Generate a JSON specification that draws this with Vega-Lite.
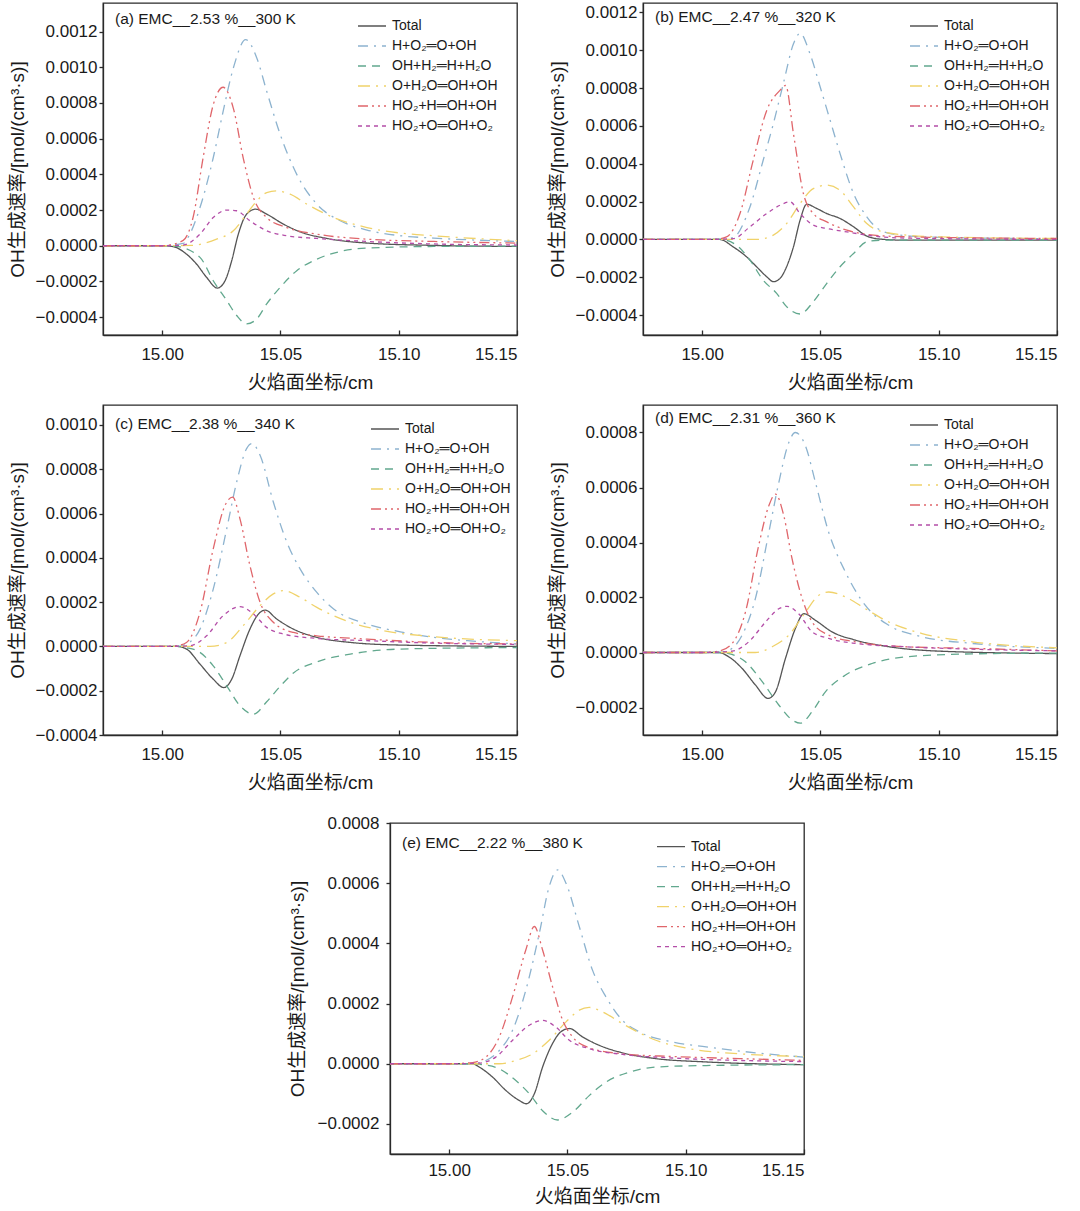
{
"$schema":"https://vega.github.io/schema/vega-lite/v6.json",
"background":"white",
"padding":{"left":7,"top":2,"right":2,"bottom":2},
"spacing":20,
"resolve":{"scale":{"x":"independent","y":"independent","color":"independent","strokeDash":"independent"},"legend":{"color":"independent","strokeDash":"independent"}},
"config":{
"font":"Liberation Sans",
"view":{"stroke":"#2a2a2a","strokeWidth":1.3},
"axis":{"grid":false,"labelFont":"Liberation Sans","labelFontSize":17,"labelColor":"#1a1a1a","titleFont":"Liberation Sans, Noto Sans CJK SC","titleFontSize":19,"titleFontWeight":"normal","titleColor":"#1a1a1a","domainColor":"#2a2a2a","tickColor":"#2a2a2a","domainWidth":1.3,"tickWidth":1.3},
"axisX":{"tickSize":-5,"labelPadding":16,"titlePadding":11},
"axisY":{"tickSize":4,"labelPadding":2,"titlePadding":8},
"legend":{"orient":"none","labelFont":"Liberation Sans","labelFontSize":14,"labelColor":"#1a1a1a","symbolType":"stroke","symbolSize":784,"symbolStrokeWidth":1.5,"clipHeight":20,"rowPadding":0,"labelOffset":5,"padding":0},
"title":{"anchor":"start","frame":"group","dx":12,"fontSize":15.5,"fontWeight":"normal","font":"Liberation Sans","baseline":"middle","color":"#1a1a1a"},
"line":{"strokeWidth":1.3,"interpolate":"monotone","clip":true}
},
"datasets":{
"a":[
{"s":"T","x":14.975,"y":0},{"s":"T","x":15,"y":0},{"s":"T","x":15.0047,"y":-0.000005},{"s":"T","x":15.0103,"y":-0.000047},{"s":"T","x":15.0145,"y":-0.000102},{"s":"T","x":15.0188,"y":-0.000177},{"s":"T","x":15.0233,"y":-0.000237},{"s":"T","x":15.0266,"y":-0.000196},{"s":"T","x":15.0294,"y":-0.000084},{"s":"T","x":15.0322,"y":0.000065},{"s":"T","x":15.0357,"y":0.000177},{"s":"T","x":15.0395,"y":0.000205},{"s":"T","x":15.0442,"y":0.000177},{"s":"T","x":15.0513,"y":0.000121},{"s":"T","x":15.0583,"y":0.000078},{"s":"T","x":15.0696,"y":0.000041},{"s":"T","x":15.0866,"y":0.000015},{"s":"T","x":15.1148,"y":0.000002},{"s":"T","x":15.15,"y":-0.000004},
{"s":"A","x":14.975,"y":0},{"s":"A","x":15,"y":0},{"s":"A","x":15.0089,"y":0.000013},{"s":"A","x":15.0117,"y":0.000065},{"s":"A","x":15.016,"y":0.000214},{"s":"A","x":15.0216,"y":0.000493},{"s":"A","x":15.0258,"y":0.000754},{"s":"A","x":15.0301,"y":0.000996},{"s":"A","x":15.0353,"y":0.001155},{"s":"A","x":15.04,"y":0.001052},{"s":"A","x":15.0442,"y":0.000866},{"s":"A","x":15.0499,"y":0.000624},{"s":"A","x":15.0569,"y":0.0004},{"s":"A","x":15.0654,"y":0.000233},{"s":"A","x":15.0753,"y":0.00014},{"s":"A","x":15.0866,"y":0.000088},{"s":"A","x":15.1007,"y":0.000056},{"s":"A","x":15.1148,"y":0.000043},{"s":"A","x":15.15,"y":0.000024},
{"s":"B","x":14.975,"y":0},{"s":"B","x":15,"y":0},{"s":"B","x":15.0061,"y":-0.000004},{"s":"B","x":15.016,"y":-0.000065},{"s":"B","x":15.0216,"y":-0.000196},{"s":"B","x":15.0273,"y":-0.000307},{"s":"B","x":15.0315,"y":-0.000391},{"s":"B","x":15.0357,"y":-0.000438},{"s":"B","x":15.04,"y":-0.00041},{"s":"B","x":15.0442,"y":-0.000326},{"s":"B","x":15.0499,"y":-0.000233},{"s":"B","x":15.0569,"y":-0.00014},{"s":"B","x":15.0654,"y":-0.000075},{"s":"B","x":15.0753,"y":-0.000032},{"s":"B","x":15.0866,"y":-0.000013},{"s":"B","x":15.1148,"y":-0.000004},{"s":"B","x":15.15,"y":-0.000002},
{"s":"C","x":14.975,"y":0},{"s":"C","x":15,"y":0},{"s":"C","x":15.0131,"y":0.000002},{"s":"C","x":15.016,"y":0.000008},{"s":"C","x":15.023,"y":0.000037},{"s":"C","x":15.0301,"y":0.000084},{"s":"C","x":15.0357,"y":0.000177},{"s":"C","x":15.04,"y":0.000251},{"s":"C","x":15.0442,"y":0.000298},{"s":"C","x":15.0484,"y":0.000307},{"s":"C","x":15.0541,"y":0.000289},{"s":"C","x":15.0612,"y":0.000233},{"s":"C","x":15.0725,"y":0.000158},{"s":"C","x":15.0866,"y":0.000102},{"s":"C","x":15.1007,"y":0.000071},{"s":"C","x":15.1148,"y":0.000056},{"s":"C","x":15.15,"y":0.000028},
{"s":"D","x":14.975,"y":0},{"s":"D","x":15,"y":0},{"s":"D","x":15.0018,"y":0.000002},{"s":"D","x":15.0089,"y":0.00003},{"s":"D","x":15.0131,"y":0.00016},{"s":"D","x":15.0174,"y":0.0005},{"s":"D","x":15.0216,"y":0.00079},{"s":"D","x":15.0258,"y":0.000888},{"s":"D","x":15.0301,"y":0.00077},{"s":"D","x":15.0343,"y":0.00049},{"s":"D","x":15.0386,"y":0.00027},{"s":"D","x":15.0442,"y":0.000158},{"s":"D","x":15.0527,"y":0.000102},{"s":"D","x":15.0654,"y":0.000065},{"s":"D","x":15.0866,"y":0.000037},{"s":"D","x":15.1148,"y":0.000024},{"s":"D","x":15.15,"y":0.000015},
{"s":"E","x":14.975,"y":0},{"s":"E","x":15,"y":0},{"s":"E","x":15.0089,"y":0.000004},{"s":"E","x":15.016,"y":0.000065},{"s":"E","x":15.0216,"y":0.000158},{"s":"E","x":15.0273,"y":0.0002},{"s":"E","x":15.0315,"y":0.000196},{"s":"E","x":15.0371,"y":0.00014},{"s":"E","x":15.0442,"y":0.000084},{"s":"E","x":15.0527,"y":0.000056},{"s":"E","x":15.0654,"y":0.000041},{"s":"E","x":15.0866,"y":0.000024},{"s":"E","x":15.1148,"y":0.00001},{"s":"E","x":15.15,"y":0.000004}
],
"b":[
{"s":"T","x":14.975,"y":0},{"s":"T","x":15,"y":0},{"s":"T","x":15.0075,"y":0},{"s":"T","x":15.0131,"y":-0.000039},{"s":"T","x":15.0188,"y":-0.000092},{"s":"T","x":15.023,"y":-0.000144},{"s":"T","x":15.0273,"y":-0.000197},{"s":"T","x":15.0301,"y":-0.000223},{"s":"T","x":15.0329,"y":-0.000206},{"s":"T","x":15.0357,"y":-0.000144},{"s":"T","x":15.0386,"y":-0.000039},{"s":"T","x":15.0414,"y":0.000102},{"s":"T","x":15.0442,"y":0.000186},{"s":"T","x":15.0484,"y":0.000164},{"s":"T","x":15.0527,"y":0.000137},{"s":"T","x":15.0583,"y":0.000111},{"s":"T","x":15.064,"y":0.000067},{"s":"T","x":15.0696,"y":0.000018},{"s":"T","x":15.0753,"y":0.000002},{"s":"T","x":15.0866,"y":-0.000004},{"s":"T","x":15.15,"y":-0.000004},
{"s":"A","x":14.975,"y":0},{"s":"A","x":15,"y":0},{"s":"A","x":15.0075,"y":0},{"s":"A","x":15.0131,"y":0.00001},{"s":"A","x":15.0202,"y":0.000172},{"s":"A","x":15.0258,"y":0.000419},{"s":"A","x":15.0301,"y":0.000612},{"s":"A","x":15.0343,"y":0.000823},{"s":"A","x":15.0386,"y":0.001034},{"s":"A","x":15.0414,"y":0.00109},{"s":"A","x":15.0456,"y":0.000981},{"s":"A","x":15.0499,"y":0.000806},{"s":"A","x":15.0541,"y":0.00063},{"s":"A","x":15.0583,"y":0.000454},{"s":"A","x":15.064,"y":0.000243},{"s":"A","x":15.0696,"y":0.00012},{"s":"A","x":15.0753,"y":0.000049},{"s":"A","x":15.0838,"y":0.000023},{"s":"A","x":15.1007,"y":0.000011},{"s":"A","x":15.15,"y":0.000004},
{"s":"B","x":14.975,"y":0},{"s":"B","x":15,"y":0},{"s":"B","x":15.0075,"y":0},{"s":"B","x":15.0145,"y":-0.00003},{"s":"B","x":15.0202,"y":-0.000109},{"s":"B","x":15.0258,"y":-0.000215},{"s":"B","x":15.0315,"y":-0.000285},{"s":"B","x":15.0357,"y":-0.000355},{"s":"B","x":15.0414,"y":-0.000394},{"s":"B","x":15.047,"y":-0.000329},{"s":"B","x":15.0527,"y":-0.000232},{"s":"B","x":15.0583,"y":-0.000144},{"s":"B","x":15.064,"y":-0.000074},{"s":"B","x":15.0696,"y":-0.000012},{"s":"B","x":15.0753,"y":-0.000004},{"s":"B","x":15.15,"y":-0.000003},
{"s":"C","x":14.975,"y":0},{"s":"C","x":15,"y":0},{"s":"C","x":15.023,"y":0},{"s":"C","x":15.0301,"y":0.000023},{"s":"C","x":15.0357,"y":0.000084},{"s":"C","x":15.0414,"y":0.00019},{"s":"C","x":15.047,"y":0.000269},{"s":"C","x":15.0527,"y":0.000287},{"s":"C","x":15.0583,"y":0.00026},{"s":"C","x":15.064,"y":0.000172},{"s":"C","x":15.0696,"y":0.000084},{"s":"C","x":15.0753,"y":0.000044},{"s":"C","x":15.0866,"y":0.000023},{"s":"C","x":15.1007,"y":0.000014},{"s":"C","x":15.15,"y":0.000005},
{"s":"D","x":14.975,"y":0},{"s":"D","x":15,"y":0},{"s":"D","x":15.0047,"y":0},{"s":"D","x":15.0103,"y":0.000014},{"s":"D","x":15.016,"y":0.000137},{"s":"D","x":15.0216,"y":0.000419},{"s":"D","x":15.0273,"y":0.000682},{"s":"D","x":15.0329,"y":0.000788},{"s":"D","x":15.0353,"y":0.000814},{"s":"D","x":15.0386,"y":0.000559},{"s":"D","x":15.0428,"y":0.000243},{"s":"D","x":15.047,"y":0.000137},{"s":"D","x":15.0527,"y":0.000093},{"s":"D","x":15.0612,"y":0.000049},{"s":"D","x":15.0725,"y":0.000023},{"s":"D","x":15.0866,"y":0.000014},{"s":"D","x":15.15,"y":0.000005},
{"s":"E","x":14.975,"y":0},{"s":"E","x":15,"y":0},{"s":"E","x":15.0131,"y":0.000004},{"s":"E","x":15.0202,"y":0.000067},{"s":"E","x":15.0273,"y":0.000137},{"s":"E","x":15.0329,"y":0.000181},{"s":"E","x":15.0371,"y":0.000199},{"s":"E","x":15.0414,"y":0.000137},{"s":"E","x":15.047,"y":0.000076},{"s":"E","x":15.0527,"y":0.000058},{"s":"E","x":15.0612,"y":0.00004},{"s":"E","x":15.0725,"y":0.000018},{"s":"E","x":15.0866,"y":0.000007},{"s":"E","x":15.15,"y":0}
],
"c":[
{"s":"T","x":14.975,"y":0},{"s":"T","x":15,"y":0},{"s":"T","x":15.0061,"y":0},{"s":"T","x":15.0103,"y":-0.000012},{"s":"T","x":15.016,"y":-0.00008},{"s":"T","x":15.0216,"y":-0.000148},{"s":"T","x":15.0261,"y":-0.000186},{"s":"T","x":15.0294,"y":-0.000148},{"s":"T","x":15.0329,"y":-0.000042},{"s":"T","x":15.0371,"y":0.000078},{"s":"T","x":15.0407,"y":0.000146},{"s":"T","x":15.0435,"y":0.000164},{"s":"T","x":15.0484,"y":0.000124},{"s":"T","x":15.0555,"y":0.000078},{"s":"T","x":15.0654,"y":0.000041},{"s":"T","x":15.0795,"y":0.000018},{"s":"T","x":15.1007,"y":0.000006},{"s":"T","x":15.15,"y":0},
{"s":"A","x":14.975,"y":0},{"s":"A","x":15,"y":0},{"s":"A","x":15.0061,"y":0},{"s":"A","x":15.0103,"y":0.000011},{"s":"A","x":15.016,"y":0.000078},{"s":"A","x":15.0216,"y":0.000259},{"s":"A","x":15.0273,"y":0.000531},{"s":"A","x":15.0315,"y":0.000742},{"s":"A","x":15.0357,"y":0.000893},{"s":"A","x":15.0379,"y":0.000916},{"s":"A","x":15.0414,"y":0.000863},{"s":"A","x":15.047,"y":0.000652},{"s":"A","x":15.0527,"y":0.000471},{"s":"A","x":15.0583,"y":0.00035},{"s":"A","x":15.0654,"y":0.000244},{"s":"A","x":15.0725,"y":0.000169},{"s":"A","x":15.0866,"y":0.000101},{"s":"A","x":15.1007,"y":0.000066},{"s":"A","x":15.1148,"y":0.000041},{"s":"A","x":15.129,"y":0.000026},{"s":"A","x":15.15,"y":0.000011},
{"s":"B","x":14.975,"y":0},{"s":"B","x":15,"y":0},{"s":"B","x":15.0061,"y":0},{"s":"B","x":15.0103,"y":-0.000006},{"s":"B","x":15.016,"y":-0.000027},{"s":"B","x":15.0216,"y":-0.000088},{"s":"B","x":15.0273,"y":-0.000178},{"s":"B","x":15.0329,"y":-0.000268},{"s":"B","x":15.0386,"y":-0.000306},{"s":"B","x":15.0442,"y":-0.00025},{"s":"B","x":15.0499,"y":-0.00018},{"s":"B","x":15.0555,"y":-0.00012},{"s":"B","x":15.0654,"y":-0.00007},{"s":"B","x":15.0795,"y":-0.000035},{"s":"B","x":15.1007,"y":-0.000012},{"s":"B","x":15.15,"y":-0.000005},
{"s":"C","x":14.975,"y":0},{"s":"C","x":15,"y":0},{"s":"C","x":15.0202,"y":0},{"s":"C","x":15.0273,"y":0.000018},{"s":"C","x":15.0343,"y":0.000094},{"s":"C","x":15.0414,"y":0.000184},{"s":"C","x":15.047,"y":0.000237},{"s":"C","x":15.0513,"y":0.000252},{"s":"C","x":15.0583,"y":0.000222},{"s":"C","x":15.0654,"y":0.000176},{"s":"C","x":15.0795,"y":0.000109},{"s":"C","x":15.0936,"y":0.000071},{"s":"C","x":15.1148,"y":0.000044},{"s":"C","x":15.15,"y":0.000026},
{"s":"D","x":14.975,"y":0},{"s":"D","x":15,"y":0},{"s":"D","x":15.0061,"y":0.000003},{"s":"D","x":15.0103,"y":0.000018},{"s":"D","x":15.016,"y":0.000154},{"s":"D","x":15.0216,"y":0.00044},{"s":"D","x":15.0266,"y":0.000637},{"s":"D","x":15.0298,"y":0.000674},{"s":"D","x":15.0329,"y":0.000576},{"s":"D","x":15.0371,"y":0.000365},{"s":"D","x":15.0414,"y":0.000199},{"s":"D","x":15.047,"y":0.000109},{"s":"D","x":15.0555,"y":0.000063},{"s":"D","x":15.0654,"y":0.000048},{"s":"D","x":15.0866,"y":0.000033},{"s":"D","x":15.1148,"y":0.000018},{"s":"D","x":15.15,"y":0.000011},
{"s":"E","x":14.975,"y":0},{"s":"E","x":15,"y":0},{"s":"E","x":15.0117,"y":0.000003},{"s":"E","x":15.0188,"y":0.000048},{"s":"E","x":15.0258,"y":0.000139},{"s":"E","x":15.0329,"y":0.00018},{"s":"E","x":15.0386,"y":0.000146},{"s":"E","x":15.0442,"y":0.000086},{"s":"E","x":15.0513,"y":0.000056},{"s":"E","x":15.0654,"y":0.000036},{"s":"E","x":15.0866,"y":0.000026},{"s":"E","x":15.1148,"y":0.000015},{"s":"E","x":15.15,"y":0.000009}
],
"d":[
{"s":"T","x":14.975,"y":0},{"s":"T","x":15,"y":0},{"s":"T","x":15.007,"y":0},{"s":"T","x":15.0113,"y":-0.000016},{"s":"T","x":15.0169,"y":-0.000058},{"s":"T","x":15.0225,"y":-0.000118},{"s":"T","x":15.0279,"y":-0.000167},{"s":"T","x":15.031,"y":-0.000143},{"s":"T","x":15.0352,"y":-0.000022},{"s":"T","x":15.0394,"y":0.000087},{"s":"T","x":15.043,"y":0.000141},{"s":"T","x":15.0479,"y":0.000117},{"s":"T","x":15.0549,"y":0.000075},{"s":"T","x":15.0648,"y":0.000045},{"s":"T","x":15.0789,"y":0.000021},{"s":"T","x":15.1,"y":0.000005},{"s":"T","x":15.15,"y":-0.000004},
{"s":"A","x":14.975,"y":0},{"s":"A","x":15,"y":0},{"s":"A","x":15.007,"y":0},{"s":"A","x":15.0113,"y":0.000008},{"s":"A","x":15.0169,"y":0.000063},{"s":"A","x":15.0225,"y":0.000196},{"s":"A","x":15.0282,"y":0.000437},{"s":"A","x":15.0324,"y":0.000618},{"s":"A","x":15.0366,"y":0.000763},{"s":"A","x":15.0394,"y":0.0008},{"s":"A","x":15.0437,"y":0.000751},{"s":"A","x":15.0479,"y":0.000618},{"s":"A","x":15.0535,"y":0.000437},{"s":"A","x":15.0606,"y":0.000292},{"s":"A","x":15.069,"y":0.000171},{"s":"A","x":15.0789,"y":0.000099},{"s":"A","x":15.093,"y":0.000057},{"s":"A","x":15.1141,"y":0.000033},{"s":"A","x":15.15,"y":0.000015},
{"s":"B","x":14.975,"y":0},{"s":"B","x":15,"y":0},{"s":"B","x":15.007,"y":0},{"s":"B","x":15.0113,"y":-0.000004},{"s":"B","x":15.0183,"y":-0.000034},{"s":"B","x":15.0254,"y":-0.000106},{"s":"B","x":15.0324,"y":-0.000191},{"s":"B","x":15.038,"y":-0.000245},{"s":"B","x":15.0415,"y":-0.000257},{"s":"B","x":15.0465,"y":-0.000215},{"s":"B","x":15.0521,"y":-0.000143},{"s":"B","x":15.0606,"y":-0.000082},{"s":"B","x":15.0718,"y":-0.00004},{"s":"B","x":15.0859,"y":-0.000016},{"s":"B","x":15.1141,"y":-0.000005},{"s":"B","x":15.15,"y":-0.000002},
{"s":"C","x":14.975,"y":0},{"s":"C","x":15,"y":0},{"s":"C","x":15.0225,"y":0},{"s":"C","x":15.0296,"y":0.000021},{"s":"C","x":15.0366,"y":0.000063},{"s":"C","x":15.0437,"y":0.000147},{"s":"C","x":15.0493,"y":0.000208},{"s":"C","x":15.0535,"y":0.00022},{"s":"C","x":15.0606,"y":0.000202},{"s":"C","x":15.069,"y":0.000159},{"s":"C","x":15.0789,"y":0.000111},{"s":"C","x":15.093,"y":0.000069},{"s":"C","x":15.1141,"y":0.000039},{"s":"C","x":15.15,"y":0.000017},
{"s":"D","x":14.975,"y":0},{"s":"D","x":15,"y":0},{"s":"D","x":15.007,"y":0.000005},{"s":"D","x":15.0127,"y":0.000033},{"s":"D","x":15.0183,"y":0.000147},{"s":"D","x":15.0239,"y":0.000389},{"s":"D","x":15.0282,"y":0.000534},{"s":"D","x":15.031,"y":0.000576},{"s":"D","x":15.0345,"y":0.000498},{"s":"D","x":15.038,"y":0.000341},{"s":"D","x":15.0423,"y":0.000196},{"s":"D","x":15.0465,"y":0.000111},{"s":"D","x":15.0535,"y":0.000063},{"s":"D","x":15.0648,"y":0.000039},{"s":"D","x":15.0859,"y":0.000021},{"s":"D","x":15.1141,"y":0.000015},{"s":"D","x":15.15,"y":0.000006},
{"s":"E","x":14.975,"y":0},{"s":"E","x":15,"y":0},{"s":"E","x":15.0127,"y":0.000005},{"s":"E","x":15.0197,"y":0.000039},{"s":"E","x":15.0268,"y":0.000111},{"s":"E","x":15.0324,"y":0.000159},{"s":"E","x":15.0359,"y":0.000168},{"s":"E","x":15.0408,"y":0.000141},{"s":"E","x":15.0465,"y":0.000075},{"s":"E","x":15.0535,"y":0.000051},{"s":"E","x":15.0648,"y":0.000033},{"s":"E","x":15.0859,"y":0.000021},{"s":"E","x":15.1141,"y":0.000012},{"s":"E","x":15.15,"y":0.000006}
],
"e":[
{"s":"T","x":14.975,"y":0},{"s":"T","x":15,"y":0},{"s":"T","x":15.0099,"y":0},{"s":"T","x":15.0127,"y":-0.000011},{"s":"T","x":15.0183,"y":-0.000044},{"s":"T","x":15.024,"y":-0.000089},{"s":"T","x":15.0296,"y":-0.000122},{"s":"T","x":15.0327,"y":-0.000133},{"s":"T","x":15.036,"y":-0.0001},{"s":"T","x":15.0395,"y":-0.000011},{"s":"T","x":15.0437,"y":0.000067},{"s":"T","x":15.0472,"y":0.000106},{"s":"T","x":15.0508,"y":0.000117},{"s":"T","x":15.0564,"y":0.000089},{"s":"T","x":15.0635,"y":0.000061},{"s":"T","x":15.0733,"y":0.000036},{"s":"T","x":15.0874,"y":0.000017},{"s":"T","x":15.1086,"y":0.000006},{"s":"T","x":15.15,"y":-0.000003},
{"s":"A","x":14.975,"y":0},{"s":"A","x":15,"y":0},{"s":"A","x":15.0099,"y":0},{"s":"A","x":15.0141,"y":0.000006},{"s":"A","x":15.0212,"y":0.000044},{"s":"A","x":15.0268,"y":0.000111},{"s":"A","x":15.0324,"y":0.000244},{"s":"A","x":15.0381,"y":0.000433},{"s":"A","x":15.0423,"y":0.000589},{"s":"A","x":15.0458,"y":0.000644},{"s":"A","x":15.0494,"y":0.0006},{"s":"A","x":15.055,"y":0.000456},{"s":"A","x":15.0606,"y":0.000311},{"s":"A","x":15.0663,"y":0.000222},{"s":"A","x":15.0733,"y":0.000144},{"s":"A","x":15.0804,"y":0.000106},{"s":"A","x":15.0945,"y":0.000072},{"s":"A","x":15.1086,"y":0.000056},{"s":"A","x":15.1298,"y":0.000036},{"s":"A","x":15.15,"y":0.000022},
{"s":"B","x":14.975,"y":0},{"s":"B","x":15,"y":0},{"s":"B","x":15.0099,"y":0},{"s":"B","x":15.0141,"y":-0.000003},{"s":"B","x":15.0212,"y":-0.000017},{"s":"B","x":15.0282,"y":-0.000056},{"s":"B","x":15.0339,"y":-0.0001},{"s":"B","x":15.0395,"y":-0.000156},{"s":"B","x":15.0458,"y":-0.000187},{"s":"B","x":15.0522,"y":-0.000161},{"s":"B","x":15.0592,"y":-0.000106},{"s":"B","x":15.0663,"y":-0.000061},{"s":"B","x":15.0762,"y":-0.000028},{"s":"B","x":15.0874,"y":-0.000011},{"s":"B","x":15.1086,"y":-0.000006},{"s":"B","x":15.15,"y":-0.000003},
{"s":"C","x":14.975,"y":0},{"s":"C","x":15,"y":0},{"s":"C","x":15.0212,"y":0},{"s":"C","x":15.0282,"y":0.000011},{"s":"C","x":15.0353,"y":0.000033},{"s":"C","x":15.0423,"y":0.000078},{"s":"C","x":15.0494,"y":0.000139},{"s":"C","x":15.055,"y":0.000178},{"s":"C","x":15.0592,"y":0.000187},{"s":"C","x":15.0649,"y":0.000172},{"s":"C","x":15.0733,"y":0.000133},{"s":"C","x":15.0874,"y":0.000078},{"s":"C","x":15.1016,"y":0.00005},{"s":"C","x":15.1227,"y":0.000033},{"s":"C","x":15.15,"y":0.000024},
{"s":"D","x":14.975,"y":0},{"s":"D","x":15,"y":0},{"s":"D","x":15.0099,"y":0.000004},{"s":"D","x":15.0155,"y":0.000022},{"s":"D","x":15.0212,"y":0.000089},{"s":"D","x":15.0268,"y":0.000222},{"s":"D","x":15.0324,"y":0.000378},{"s":"D","x":15.036,"y":0.000456},{"s":"D","x":15.0395,"y":0.000378},{"s":"D","x":15.0437,"y":0.000256},{"s":"D","x":15.048,"y":0.000144},{"s":"D","x":15.0522,"y":0.000089},{"s":"D","x":15.0592,"y":0.000053},{"s":"D","x":15.0733,"y":0.000033},{"s":"D","x":15.0945,"y":0.000024},{"s":"D","x":15.1227,"y":0.000017},{"s":"D","x":15.15,"y":0.000011},
{"s":"E","x":14.975,"y":0},{"s":"E","x":15,"y":0},{"s":"E","x":15.0127,"y":0.000002},{"s":"E","x":15.0197,"y":0.000022},{"s":"E","x":15.0268,"y":0.000078},{"s":"E","x":15.0339,"y":0.000128},{"s":"E","x":15.0395,"y":0.000144},{"s":"E","x":15.0451,"y":0.000122},{"s":"E","x":15.0508,"y":0.000078},{"s":"E","x":15.0592,"y":0.00005},{"s":"E","x":15.0733,"y":0.000031},{"s":"E","x":15.0945,"y":0.000019},{"s":"E","x":15.1227,"y":0.000011},{"s":"E","x":15.15,"y":0.000007}
]
},
"vconcat":[
{"vconcat":[
{"hconcat":[
{"data":{"name":"a"},"width":414,"height":332,"title":{"text":"(a) EMC__2.53 %__300 K","offset":-24},"mark":"line",
"encoding":{"x":{"field":"x","type":"quantitative","scale":{"domain":[14.975,15.15],"nice":false,"zero":false},"axis":{"values":[15,15.05,15.1,15.15],"format":".2f","title":"火焰面坐标/cm"}},
"y":{"field":"y","type":"quantitative","scale":{"domain":[-0.0005,0.00136],"nice":false,"zero":false},"axis":{"values":[-0.0004,-0.0002,0,0.0002,0.0004,0.0006,0.0008,0.001,0.0012],"format":".4f","title":"OH生成速率/[mol/(cm³·s)]"}},
"color":{"field":"s","type":"nominal","scale":{"domain":["T","A","B","C","D","E"],"range":["#555555","#8db3cf","#62a88e","#f0d26a","#e0666b","#b44ea8"]},"legend":{"title":null,"legendX":254,"legendY":13,"labelExpr":"datum.label=='T'?'Total':datum.label=='A'?'H+O₂═O+OH':datum.label=='B'?'OH+H₂═H+H₂O':datum.label=='C'?'O+H₂O═OH+OH':datum.label=='D'?'HO₂+H═OH+OH':'HO₂+O═OH+O₂'"}},
"strokeDash":{"field":"s","type":"nominal","scale":{"domain":["T","A","B","C","D","E"],"range":[[1,0],[10,6,2,6],[8,6],[12,6,2,6],[10,4,2,4,2,4],[4,4]]},"legend":{"title":null,"legendX":254,"legendY":13,"labelExpr":"datum.label=='T'?'Total':datum.label=='A'?'H+O₂═O+OH':datum.label=='B'?'OH+H₂═H+H₂O':datum.label=='C'?'O+H₂O═OH+OH':datum.label=='D'?'HO₂+H═OH+OH':'HO₂+O═OH+O₂'"}}}},
{"data":{"name":"b"},"width":414,"height":332,"title":{"text":"(b)  EMC__2.47 %__320 K","offset":-22},"mark":"line",
"encoding":{"x":{"field":"x","type":"quantitative","scale":{"domain":[14.975,15.15],"nice":false,"zero":false},"axis":{"values":[15,15.05,15.1,15.15],"format":".2f","title":"火焰面坐标/cm"}},
"y":{"field":"y","type":"quantitative","scale":{"domain":[-0.000505,0.00125],"nice":false,"zero":false},"axis":{"values":[-0.0004,-0.0002,0,0.0002,0.0004,0.0006,0.0008,0.001,0.0012],"format":".4f","title":"OH生成速率/[mol/(cm³·s)]"}},
"color":{"field":"s","type":"nominal","scale":{"domain":["T","A","B","C","D","E"],"range":["#555555","#8db3cf","#62a88e","#f0d26a","#e0666b","#b44ea8"]},"legend":{"title":null,"legendX":266,"legendY":13,"labelExpr":"datum.label=='T'?'Total':datum.label=='A'?'H+O₂═O+OH':datum.label=='B'?'OH+H₂═H+H₂O':datum.label=='C'?'O+H₂O═OH+OH':datum.label=='D'?'HO₂+H═OH+OH':'HO₂+O═OH+O₂'"}},
"strokeDash":{"field":"s","type":"nominal","scale":{"domain":["T","A","B","C","D","E"],"range":[[1,0],[10,6,2,6],[8,6],[12,6,2,6],[10,4,2,4,2,4],[4,4]]},"legend":{"title":null,"legendX":266,"legendY":13,"labelExpr":"datum.label=='T'?'Total':datum.label=='A'?'H+O₂═O+OH':datum.label=='B'?'OH+H₂═H+H₂O':datum.label=='C'?'O+H₂O═OH+OH':datum.label=='D'?'HO₂+H═OH+OH':'HO₂+O═OH+O₂'"}}}}
],"spacing":126,"bounds":"flush","resolve":{"scale":{"x":"independent","y":"independent","color":"independent","strokeDash":"independent"},"legend":{"color":"independent","strokeDash":"independent"}}},
{"hconcat":[
{"data":{"name":"c"},"width":414,"height":330,"title":{"text":"(c)  EMC__2.38 %__340 K","offset":-27},"mark":"line",
"encoding":{"x":{"field":"x","type":"quantitative","scale":{"domain":[14.975,15.15],"nice":false,"zero":false},"axis":{"values":[15,15.05,15.1,15.15],"format":".2f","title":"火焰面坐标/cm"}},
"y":{"field":"y","type":"quantitative","scale":{"domain":[-0.0004,0.00109],"nice":false,"zero":false},"axis":{"values":[-0.0004,-0.0002,0,0.0002,0.0004,0.0006,0.0008,0.001],"format":".4f","title":"OH生成速率/[mol/(cm³·s)]"}},
"color":{"field":"s","type":"nominal","scale":{"domain":["T","A","B","C","D","E"],"range":["#555555","#8db3cf","#62a88e","#f0d26a","#e0666b","#b44ea8"]},"legend":{"title":null,"legendX":267,"legendY":14,"labelExpr":"datum.label=='T'?'Total':datum.label=='A'?'H+O₂═O+OH':datum.label=='B'?'OH+H₂═H+H₂O':datum.label=='C'?'O+H₂O═OH+OH':datum.label=='D'?'HO₂+H═OH+OH':'HO₂+O═OH+O₂'"}},
"strokeDash":{"field":"s","type":"nominal","scale":{"domain":["T","A","B","C","D","E"],"range":[[1,0],[10,6,2,6],[8,6],[12,6,2,6],[10,4,2,4,2,4],[4,4]]},"legend":{"title":null,"legendX":267,"legendY":14,"labelExpr":"datum.label=='T'?'Total':datum.label=='A'?'H+O₂═O+OH':datum.label=='B'?'OH+H₂═H+H₂O':datum.label=='C'?'O+H₂O═OH+OH':datum.label=='D'?'HO₂+H═OH+OH':'HO₂+O═OH+O₂'"}}}},
{"data":{"name":"d"},"width":414,"height":330,"title":{"text":"(d)   EMC__2.31 %__360 K","offset":-21},"mark":"line",
"encoding":{"x":{"field":"x","type":"quantitative","scale":{"domain":[14.975,15.15],"nice":false,"zero":false},"axis":{"values":[15,15.05,15.1,15.15],"format":".2f","title":"火焰面坐标/cm"}},
"y":{"field":"y","type":"quantitative","scale":{"domain":[-0.0003,0.0009],"nice":false,"zero":false},"axis":{"values":[-0.0002,0,0.0002,0.0004,0.0006,0.0008],"format":".4f","title":"OH生成速率/[mol/(cm³·s)]"}},
"color":{"field":"s","type":"nominal","scale":{"domain":["T","A","B","C","D","E"],"range":["#555555","#8db3cf","#62a88e","#f0d26a","#e0666b","#b44ea8"]},"legend":{"title":null,"legendX":266,"legendY":10,"labelExpr":"datum.label=='T'?'Total':datum.label=='A'?'H+O₂═O+OH':datum.label=='B'?'OH+H₂═H+H₂O':datum.label=='C'?'O+H₂O═OH+OH':datum.label=='D'?'HO₂+H═OH+OH':'HO₂+O═OH+O₂'"}},
"strokeDash":{"field":"s","type":"nominal","scale":{"domain":["T","A","B","C","D","E"],"range":[[1,0],[10,6,2,6],[8,6],[12,6,2,6],[10,4,2,4,2,4],[4,4]]},"legend":{"title":null,"legendX":266,"legendY":10,"labelExpr":"datum.label=='T'?'Total':datum.label=='A'?'H+O₂═O+OH':datum.label=='B'?'OH+H₂═H+H₂O':datum.label=='C'?'O+H₂O═OH+OH':datum.label=='D'?'HO₂+H═OH+OH':'HO₂+O═OH+O₂'"}}}}
],"spacing":126,"bounds":"flush","resolve":{"scale":{"x":"independent","y":"independent","color":"independent","strokeDash":"independent"},"legend":{"color":"independent","strokeDash":"independent"}}}
],"spacing":11,"resolve":{"scale":{"x":"independent","y":"independent","color":"independent","strokeDash":"independent"},"legend":{"color":"independent","strokeDash":"independent"}}},
{"hconcat":[
{"data":{"values":[]},"width":287,"height":331,"mark":{"type":"point","opacity":0},"view":{"stroke":null,"fill":"white"}},
{"data":{"name":"e"},"width":414,"height":331,"title":{"text":"(e)  EMC__2.22 %__380 K","offset":-37},"mark":"line",
"encoding":{"x":{"field":"x","type":"quantitative","scale":{"domain":[14.975,15.15],"nice":false,"zero":false},"axis":{"values":[15,15.05,15.1,15.15],"format":".2f","title":"火焰面坐标/cm","labelPadding":13,"titlePadding":9}},
"y":{"field":"y","type":"quantitative","scale":{"domain":[-0.0003,0.0008],"nice":false,"zero":false},"axis":{"values":[-0.0002,0,0.0002,0.0004,0.0006,0.0008],"format":".4f","title":"OH生成速率/[mol/(cm³·s)]","labelPadding":7,"titlePadding":10}},
"color":{"field":"s","type":"nominal","scale":{"domain":["T","A","B","C","D","E"],"range":["#555555","#8db3cf","#62a88e","#f0d26a","#e0666b","#b44ea8"]},"legend":{"title":null,"legendX":266,"legendY":13.6,"labelExpr":"datum.label=='T'?'Total':datum.label=='A'?'H+O₂═O+OH':datum.label=='B'?'OH+H₂═H+H₂O':datum.label=='C'?'O+H₂O═OH+OH':datum.label=='D'?'HO₂+H═OH+OH':'HO₂+O═OH+O₂'"}},
"strokeDash":{"field":"s","type":"nominal","scale":{"domain":["T","A","B","C","D","E"],"range":[[1,0],[10,6,2,6],[8,6],[12,6,2,6],[10,4,2,4,2,4],[4,4]]},"legend":{"title":null,"legendX":266,"legendY":13.6,"labelExpr":"datum.label=='T'?'Total':datum.label=='A'?'H+O₂═O+OH':datum.label=='B'?'OH+H₂═H+H₂O':datum.label=='C'?'O+H₂O═OH+OH':datum.label=='D'?'HO₂+H═OH+OH':'HO₂+O═OH+O₂'"}}}}
],"spacing":0,"bounds":"flush","resolve":{"scale":{"x":"independent","y":"independent","color":"independent","strokeDash":"independent"},"legend":{"color":"independent","strokeDash":"independent"}}}
]
}
